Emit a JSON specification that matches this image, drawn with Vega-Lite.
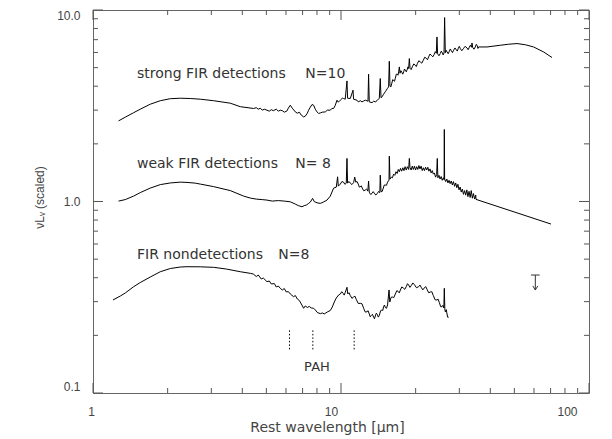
{
"$schema": "https://vega.github.io/schema/vega-lite/v6.json",
"width": 496, "height": 383,
"autosize": {"type": "none"},
"padding": {"left": 93, "top": 10, "right": 23, "bottom": 46},
"background": "white",
"config": {"view": {"stroke": "#666", "strokeWidth": 1}, "font": "DejaVu Sans"},
"datasets": {
"strong": [
{"wl":1.268,"f":2.636},{"wl":1.349,"f":2.756},{"wl":1.458,"f":2.909},{"wl":1.551,"f":3.034},{"wl":1.702,"f":3.222},{"wl":1.868,"f":3.360},{"wl":2.050,"f":3.442},{"wl":2.249,"f":3.462},{"wl":2.468,"f":3.450},{"wl":2.708,"f":3.421},{"wl":3.064,"f":3.360},{"wl":3.578,"f":3.261},{"wl":3.926,"f":3.127},{"wl":4.443,"f":3.060},
{"wl":4.555,"f":3.089},{"wl":4.640,"f":3.034},{"wl":4.727,"f":3.071},{"wl":4.815,"f":2.998},{"wl":4.905,"f":3.034},{"wl":5.030,"f":2.998},{"wl":5.139,"f":2.963},{"wl":5.236,"f":3.016},{"wl":5.333,"f":2.980},{"wl":5.484,"f":3.034},{"wl":5.587,"f":2.963},{"wl":5.691,"f":2.998},{"wl":5.798,"f":2.980},{"wl":5.907,"f":2.927},{"wl":6.058,"f":2.973},{"wl":6.131,"f":3.071},{"wl":6.246,"f":3.183},{"wl":6.361,"f":3.071},{"wl":6.543,"f":2.937},{"wl":6.666,"f":2.891},{"wl":6.792,"f":2.927},{"wl":6.918,"f":2.823},{"wl":7.068,"f":2.765},{"wl":7.178,"f":2.789},{"wl":7.314,"f":2.891},{"wl":7.402,"f":2.998},{"wl":7.520,"f":3.108},{"wl":7.641,"f":3.210},{"wl":7.755,"f":3.183},{"wl":7.877,"f":3.034},{"wl":8.004,"f":2.937},{"wl":8.124,"f":2.881},{"wl":8.253,"f":2.902},{"wl":8.406,"f":2.927},{"wl":8.645,"f":2.937},{"wl":8.807,"f":2.998},{"wl":9.055,"f":2.998},{"wl":9.182,"f":3.060},{"wl":9.337,"f":3.060},{"wl":9.485,"f":3.183},{"wl":9.636,"f":3.381},{"wl":9.752,"f":3.300},{"wl":9.936,"f":3.381},{"wl":10.12,"f":3.462},{"wl":10.24,"f":3.450},{"wl":10.40,"f":3.421},{"wl":10.57,"f":4.262},{"wl":10.63,"f":3.462},{"wl":10.90,"f":3.450},{"wl":11.18,"f":3.812},{"wl":11.24,"f":3.421},{"wl":11.60,"f":3.381},{"wl":11.74,"f":3.312},{"wl":11.96,"f":3.360},{"wl":12.15,"f":3.312},{"wl":12.30,"f":3.340},{"wl":12.53,"f":3.381},{"wl":12.85,"f":3.340},{"wl":12.92,"f":4.620},{"wl":13.00,"f":3.312},{"wl":13.34,"f":3.281},{"wl":13.54,"f":3.340},{"wl":13.75,"f":3.312},{"wl":13.97,"f":3.360},{"wl":14.27,"f":3.462},{"wl":14.40,"f":4.387},{"wl":14.50,"f":3.483},{"wl":14.63,"f":3.517},{"wl":14.85,"f":3.633},{"wl":15.09,"f":3.744},{"wl":15.41,"f":3.904},{"wl":15.56,"f":3.965},{"wl":15.66,"f":5.400},{"wl":15.76,"f":4.000},
{"wl":15.89,"f":3.970},{"wl":16.03,"f":4.146},{"wl":16.16,"f":4.327},{"wl":16.30,"f":4.298},{"wl":16.43,"f":4.241},{"wl":16.56,"f":4.402},{"wl":16.71,"f":4.622},{"wl":16.87,"f":4.620},{"wl":16.97,"f":4.567},{"wl":17.08,"f":4.749},{"wl":17.19,"f":5.043},{"wl":17.30,"f":4.675},{"wl":17.44,"f":4.821},{"wl":17.59,"f":4.732},{"wl":17.74,"f":4.622},{"wl":17.89,"f":4.749},{"wl":18.03,"f":4.918},{"wl":18.17,"f":4.847},{"wl":18.34,"f":4.754},{"wl":18.51,"f":4.906},{"wl":18.62,"f":5.049},{"wl":18.74,"f":4.947},{"wl":18.86,"f":5.578},{"wl":18.98,"f":4.966},{"wl":19.18,"f":4.885},{"wl":19.39,"f":5.054},{"wl":19.66,"f":5.228},{"wl":19.94,"f":5.146},{"wl":20.12,"f":5.063},{"wl":20.31,"f":5.241},{"wl":20.59,"f":5.430},{"wl":20.88,"f":5.355},{"wl":21.17,"f":5.275},{"wl":21.47,"f":5.465},{"wl":21.77,"f":5.669},{"wl":22.08,"f":5.598},{"wl":22.32,"f":5.501},{"wl":22.56,"f":5.687},{"wl":22.84,"f":5.889},{"wl":23.13,"f":5.804},{"wl":23.45,"f":5.693},{"wl":23.78,"f":5.874},{"wl":24.00,"f":6.057},{"wl":24.23,"f":5.945},{"wl":24.38,"f":7.232},{"wl":24.52,"f":5.909},{"wl":24.83,"f":5.768},{"wl":25.14,"f":5.924},{"wl":25.38,"f":6.101},{"wl":25.62,"f":5.981},{"wl":25.82,"f":5.825},{"wl":26.03,"f":5.967},{"wl":26.17,"f":9.129},{"wl":26.34,"f":5.981},{"wl":26.55,"f":6.160},{"wl":26.76,"f":6.039},{"wl":27.05,"f":5.912},{"wl":27.34,"f":6.089},{"wl":27.59,"f":6.260},{"wl":27.85,"f":6.126},{"wl":28.15,"f":5.990},{"wl":28.45,"f":6.163},{"wl":28.81,"f":6.336},{"wl":29.17,"f":6.200},{"wl":29.44,"f":6.100},{"wl":29.72,"f":6.313},{"wl":29.99,"f":6.459},{"wl":30.27,"f":6.290},{"wl":30.69,"f":6.125},{"wl":31.12,"f":6.275},{"wl":31.67,"f":6.463},{"wl":32.23,"f":6.336},{"wl":32.57,"f":6.203},{"wl":32.91,"f":6.389},{"wl":33.25,"f":6.549},{"wl":33.60,"f":6.389},{"wl":33.75,"f":6.728},{"wl":33.94,"f":6.389},{"wl":34.36,"f":6.240},{"wl":34.79,"f":6.412},{"wl":35.11,"f":6.620},{"wl":35.44,"f":6.506},{"wl":35.65,"f":6.298},{"wl":35.87,"f":6.412},
{"wl":38.80,"f":6.412},{"wl":43.88,"f":6.545},{"wl":47.27,"f":6.624},{"wl":51.26,"f":6.679},{"wl":55.35,"f":6.585},{"wl":59.80,"f":6.412},{"wl":65.61,"f":6.039},{"wl":70.94,"f":5.646}
],
"weak": [
{"wl":1.268,"f":1.005},{"wl":1.349,"f":1.023},{"wl":1.458,"f":1.067},{"wl":1.551,"f":1.113},{"wl":1.702,"f":1.175},{"wl":1.868,"f":1.225},{"wl":2.050,"f":1.250},{"wl":2.249,"f":1.262},{"wl":2.393,"f":1.258},{"wl":2.585,"f":1.247},{"wl":2.708,"f":1.233},{"wl":3.064,"f":1.196},{"wl":3.578,"f":1.140},{"wl":4.049,"f":1.067},
{"wl":4.309,"f":1.042},{"wl":4.555,"f":1.029},{"wl":4.815,"f":1.023},{"wl":5.030,"f":1.017},{"wl":5.284,"f":1.005},{"wl":5.587,"f":1.011},{"wl":5.907,"f":1.005},{"wl":6.246,"f":0.9964},{"wl":6.543,"f":0.9692},{"wl":6.727,"f":0.9519},{"wl":6.962,"f":0.9384},{"wl":7.112,"f":0.9519},{"wl":7.246,"f":0.9576},{"wl":7.402,"f":0.9774},{"wl":7.520,"f":0.9928},{"wl":7.682,"f":1.038},{"wl":7.803,"f":0.9988},{"wl":8.004,"f":0.9845},{"wl":8.253,"f":0.9774},{"wl":8.484,"f":0.9928},{"wl":8.781,"f":1.017},{"wl":9.055,"f":1.067},{"wl":9.337,"f":1.175},{"wl":9.573,"f":1.189},{"wl":9.690,"f":1.346},{"wl":9.752,"f":1.203},{"wl":9.936,"f":1.233},{"wl":10.09,"f":1.272},{"wl":10.24,"f":1.262},{"wl":10.37,"f":1.229},{"wl":10.50,"f":1.247},{"wl":10.57,"f":1.678},{"wl":10.63,"f":1.247},{"wl":10.76,"f":1.272},{"wl":10.90,"f":1.247},{"wl":11.07,"f":1.226},{"wl":11.24,"f":1.255},{"wl":11.36,"f":1.341},{"wl":11.47,"f":1.262},{"wl":11.60,"f":1.272},{"wl":11.74,"f":1.233},{"wl":11.85,"f":1.189},{"wl":11.96,"f":1.193},{"wl":12.07,"f":1.208},{"wl":12.18,"f":1.175},{"wl":12.35,"f":1.138},{"wl":12.53,"f":1.147},{"wl":12.68,"f":1.163},{"wl":12.83,"f":1.133},{"wl":12.92,"f":1.278},{"wl":13.00,"f":1.119},{"wl":13.17,"f":1.088},{"wl":13.34,"f":1.102},{"wl":13.48,"f":1.126},{"wl":13.62,"f":1.106},{"wl":13.81,"f":1.081},{"wl":14.01,"f":1.100},{"wl":14.17,"f":1.128},{"wl":14.34,"f":1.113},{"wl":14.40,"f":1.373},{"wl":14.50,"f":1.126},{"wl":14.65,"f":1.127},{"wl":14.81,"f":1.175},{"wl":14.95,"f":1.220},{"wl":15.09,"f":1.218},{"wl":15.25,"f":1.215},{"wl":15.41,"f":1.262},{"wl":15.62,"f":1.293},{"wl":15.66,"f":1.725},{"wl":15.76,"f":1.309},
{"wl":15.95,"f":1.34},{"wl":16.12,"f":1.33},{"wl":16.30,"f":1.39},{"wl":16.48,"f":1.37},{"wl":16.66,"f":1.43},{"wl":16.85,"f":1.40},{"wl":17.02,"f":1.47},{"wl":17.19,"f":1.43},{"wl":17.37,"f":1.49},{"wl":17.56,"f":1.44},{"wl":17.75,"f":1.50},{"wl":17.94,"f":1.45},{"wl":18.13,"f":1.52},{"wl":18.33,"f":1.46},{"wl":18.52,"f":1.52},{"wl":18.74,"f":1.47},{"wl":18.86,"f":1.678},{"wl":18.98,"f":1.50},{"wl":19.18,"f":1.46},{"wl":19.38,"f":1.53},{"wl":19.58,"f":1.47},{"wl":19.78,"f":1.53},{"wl":19.98,"f":1.46},{"wl":20.19,"f":1.52},{"wl":20.40,"f":1.47},{"wl":20.61,"f":1.54},{"wl":20.82,"f":1.48},{"wl":21.04,"f":1.53},{"wl":21.26,"f":1.45},{"wl":21.48,"f":1.50},{"wl":21.70,"f":1.45},{"wl":21.93,"f":1.51},{"wl":22.16,"f":1.46},{"wl":22.39,"f":1.51},{"wl":22.62,"f":1.44},{"wl":22.85,"f":1.48},{"wl":23.09,"f":1.41},{"wl":23.33,"f":1.45},{"wl":23.57,"f":1.39},{"wl":23.81,"f":1.41},{"wl":24.06,"f":1.34},{"wl":24.30,"f":1.38},{"wl":24.45,"f":1.678},{"wl":24.58,"f":1.33},{"wl":24.83,"f":1.37},{"wl":25.09,"f":1.31},{"wl":25.35,"f":1.35},{"wl":25.61,"f":1.29},{"wl":25.88,"f":1.33},{"wl":26.04,"f":1.30},{"wl":26.10,"f":2.377},{"wl":26.17,"f":1.31},{"wl":26.44,"f":1.27},{"wl":26.71,"f":1.31},{"wl":26.99,"f":1.25},{"wl":27.27,"f":1.29},{"wl":27.55,"f":1.24},{"wl":27.83,"f":1.28},{"wl":28.12,"f":1.22},{"wl":28.41,"f":1.27},{"wl":28.71,"f":1.20},{"wl":29.01,"f":1.25},{"wl":29.31,"f":1.18},{"wl":29.61,"f":1.23},{"wl":29.92,"f":1.15},{"wl":30.23,"f":1.19},{"wl":30.54,"f":1.12},{"wl":30.86,"f":1.16},{"wl":31.18,"f":1.09},{"wl":31.50,"f":1.14},{"wl":31.83,"f":1.08},{"wl":32.16,"f":1.15},{"wl":32.49,"f":1.06},{"wl":32.83,"f":1.13},{"wl":33.17,"f":1.05},{"wl":33.51,"f":1.14},{"wl":33.86,"f":1.04},{"wl":34.21,"f":1.10},{"wl":34.57,"f":1.03},{"wl":34.93,"f":1.08},{"wl":35.02,"f":1.026},
{"wl":70.29,"f":0.7623}
],
"non": [
{"wl":1.204,"f":0.3060},{"wl":1.289,"f":0.3210},{"wl":1.349,"f":0.3328},{"wl":1.458,"f":0.3589},{"wl":1.551,"f":0.3775},{"wl":1.702,"f":0.4033},{"wl":1.868,"f":0.4298},{"wl":2.050,"f":0.4467},{"wl":2.249,"f":0.4548},{"wl":2.393,"f":0.4565},{"wl":2.708,"f":0.4559},{"wl":3.064,"f":0.4532},{"wl":3.447,"f":0.4440},{"wl":3.926,"f":0.4298},{"wl":4.309,"f":0.4215},
{"wl":4.430,"f":0.4180},{"wl":4.555,"f":0.4057},{"wl":4.640,"f":0.4131},{"wl":4.770,"f":0.3937},{"wl":4.860,"f":0.3985},{"wl":5.030,"f":0.3812},{"wl":5.139,"f":0.3845},{"wl":5.236,"f":0.3708},{"wl":5.383,"f":0.3730},{"wl":5.484,"f":0.3577},{"wl":5.587,"f":0.3620},{"wl":5.691,"f":0.3521},{"wl":5.798,"f":0.3450},{"wl":5.907,"f":0.3512},{"wl":6.018,"f":0.3368},{"wl":6.131,"f":0.3388},{"wl":6.246,"f":0.3289},{"wl":6.440,"f":0.3183},{"wl":6.543,"f":0.3229},{"wl":6.666,"f":0.3097},{"wl":6.792,"f":0.3041},{"wl":6.918,"f":0.2916},{"wl":7.068,"f":0.2770},{"wl":7.178,"f":0.2848},{"wl":7.314,"f":0.2797},{"wl":7.450,"f":0.2830},{"wl":7.588,"f":0.2780},{"wl":7.755,"f":0.2770},{"wl":7.877,"f":0.2714},{"wl":8.024,"f":0.2633},{"wl":8.253,"f":0.2596},{"wl":8.406,"f":0.2618},{"wl":8.565,"f":0.2587},{"wl":8.807,"f":0.2649},{"wl":9.055,"f":0.2697},{"wl":9.224,"f":0.2813},{"wl":9.397,"f":0.2987},{"wl":9.573,"f":0.3134},{"wl":9.779,"f":0.3249},{"wl":9.936,"f":0.3289},{"wl":10.07,"f":0.3381},{"wl":10.21,"f":0.3308},{"wl":10.30,"f":0.3245},{"wl":10.40,"f":0.3348},{"wl":10.57,"f":0.3564},{"wl":10.65,"f":0.3289},{"wl":10.77,"f":0.3340},{"wl":10.90,"f":0.3229},{"wl":11.07,"f":0.3120},{"wl":11.24,"f":0.3172},{"wl":11.38,"f":0.3203},{"wl":11.53,"f":0.3078},{"wl":11.74,"f":0.2933},{"wl":11.96,"f":0.2940},{"wl":12.15,"f":0.2925},{"wl":12.34,"f":0.2770},{"wl":12.53,"f":0.2645},{"wl":12.73,"f":0.2658},{"wl":12.86,"f":0.2688},{"wl":13.00,"f":0.2587},{"wl":13.12,"f":0.2499},{"wl":13.25,"f":0.2540},{"wl":13.39,"f":0.2576},{"wl":13.54,"f":0.2486},{"wl":13.64,"f":0.2442},{"wl":13.75,"f":0.2525},{"wl":13.88,"f":0.2611},{"wl":14.01,"f":0.2570},{"wl":14.14,"f":0.2491},{"wl":14.27,"f":0.2540},{"wl":14.45,"f":0.2691},{"wl":14.63,"f":0.2714},{"wl":14.74,"f":0.2699},{"wl":14.85,"f":0.2823},{"wl":14.97,"f":0.2880},{"wl":15.09,"f":0.2797},{"wl":15.25,"f":0.2768},{"wl":15.41,"f":0.2882},{"wl":15.62,"f":0.3450},{"wl":15.73,"f":0.2987},{"wl":15.91,"f":0.3157},{"wl":16.10,"f":0.3172},{"wl":16.33,"f":0.3149},{"wl":16.56,"f":0.3289},{"wl":16.79,"f":0.3422},{"wl":17.02,"f":0.3388},{"wl":17.18,"f":0.3333},{"wl":17.35,"f":0.3450},{"wl":17.59,"f":0.3579},{"wl":17.83,"f":0.3534},{"wl":18.08,"f":0.3477},{"wl":18.34,"f":0.3598},{"wl":18.54,"f":0.3722},{"wl":18.74,"f":0.3664},{"wl":18.97,"f":0.3562},{"wl":19.21,"f":0.3642},{"wl":19.48,"f":0.3756},{"wl":19.75,"f":0.3686},{"wl":20.15,"f":0.3546},{"wl":20.56,"f":0.3589},{"wl":20.82,"f":0.3661},{"wl":21.08,"f":0.3555},{"wl":21.37,"f":0.3456},{"wl":21.67,"f":0.3534},{"wl":21.95,"f":0.3594},{"wl":22.23,"f":0.3479},{"wl":22.57,"f":0.3337},{"wl":22.92,"f":0.3368},{"wl":23.24,"f":0.3380},{"wl":23.56,"f":0.3229},{"wl":23.97,"f":0.3065},{"wl":24.38,"f":0.3060},{"wl":24.64,"f":0.3090},{"wl":24.91,"f":0.2970},{"wl":25.23,"f":0.2823},{"wl":25.55,"f":0.2823},{"wl":25.76,"f":0.2871},{"wl":25.98,"f":0.2780},{"wl":26.10,"f":0.3521},{"wl":26.22,"f":0.2747},{"wl":26.34,"f":0.2654},{"wl":26.47,"f":0.2697},{"wl":26.59,"f":0.2724},{"wl":26.71,"f":0.2618},{"wl":26.93,"f":0.2487},{"wl":27.16,"f":0.2486}
],
"pah": [{"wl":6.2,"lo":0.169,"hi":0.214},{"wl":7.7,"lo":0.169,"hi":0.214},{"wl":11.3,"lo":0.169,"hi":0.214}],
"labels": [
{"text":"strong FIR detections","wl":1.504,"f":4.658},{"text":"N=10","wl":7.178,"f":4.658},
{"text":"weak FIR detections","wl":1.504,"f":1.561},{"text":"N= 8","wl":6.543,"f":1.561},
{"text":"FIR nondetections","wl":1.504,"f":0.5253},{"text":"N=8","wl":5.587,"f":0.5253}
],
"pahlabel": [{"text":"PAH","wl":8.0,"f":0.1373}],
"limit": [{"wl":60.75,"f":0.3775}],
"xmaj": [{"v":1},{"v":10},{"v":100}],
"xmin": [{"v":2},{"v":3},{"v":4},{"v":5},{"v":6},{"v":7},{"v":8},{"v":9},{"v":20},{"v":30},{"v":40},{"v":50},{"v":60},{"v":70},{"v":80},{"v":90}],
"ymaj": [{"v":0.1},{"v":1},{"v":10}],
"ymin": [{"v":0.2},{"v":0.3},{"v":0.4},{"v":0.5},{"v":0.6},{"v":0.7},{"v":0.8},{"v":0.9},{"v":2},{"v":3},{"v":4},{"v":5},{"v":6},{"v":7},{"v":8},{"v":9}]
},
"layer": [
{"data": {"name": "xmaj"}, "mark": {"type": "rule", "color": "#555", "strokeWidth": 1, "y2Offset": -10},
 "encoding": {"x": {"field": "v", "type": "quantitative", "scale": {"type": "log", "domain": [1, 100]}, "axis": null},
  "y": {"datum": 0.1, "type": "quantitative", "scale": {"type": "log", "domain": [0.1, 10]}, "axis": null}, "y2": {"datum": 0.1}}},
{"data": {"name": "xmin"}, "mark": {"type": "rule", "color": "#555", "strokeWidth": 1, "y2Offset": -5},
 "encoding": {"x": {"field": "v", "type": "quantitative", "scale": {"type": "log", "domain": [1, 100]}, "axis": null},
  "y": {"datum": 0.1, "type": "quantitative", "scale": {"type": "log", "domain": [0.1, 10]}, "axis": null}, "y2": {"datum": 0.1}}},
{"data": {"name": "xmaj"}, "mark": {"type": "rule", "color": "#555", "strokeWidth": 1, "y2Offset": 10},
 "encoding": {"x": {"field": "v", "type": "quantitative", "scale": {"type": "log", "domain": [1, 100]}, "axis": null},
  "y": {"datum": 10, "type": "quantitative", "scale": {"type": "log", "domain": [0.1, 10]}, "axis": null}, "y2": {"datum": 10}}},
{"data": {"name": "xmin"}, "mark": {"type": "rule", "color": "#555", "strokeWidth": 1, "y2Offset": 5},
 "encoding": {"x": {"field": "v", "type": "quantitative", "scale": {"type": "log", "domain": [1, 100]}, "axis": null},
  "y": {"datum": 10, "type": "quantitative", "scale": {"type": "log", "domain": [0.1, 10]}, "axis": null}, "y2": {"datum": 10}}},
{"data": {"name": "ymaj"}, "mark": {"type": "rule", "color": "#555", "strokeWidth": 1, "x2Offset": 10},
 "encoding": {"y": {"field": "v", "type": "quantitative", "scale": {"type": "log", "domain": [0.1, 10]}, "axis": null},
  "x": {"datum": 1, "type": "quantitative", "scale": {"type": "log", "domain": [1, 100]}, "axis": null}, "x2": {"datum": 1}}},
{"data": {"name": "ymin"}, "mark": {"type": "rule", "color": "#555", "strokeWidth": 1, "x2Offset": 5},
 "encoding": {"y": {"field": "v", "type": "quantitative", "scale": {"type": "log", "domain": [0.1, 10]}, "axis": null},
  "x": {"datum": 1, "type": "quantitative", "scale": {"type": "log", "domain": [1, 100]}, "axis": null}, "x2": {"datum": 1}}},
{"data": {"name": "ymaj"}, "mark": {"type": "rule", "color": "#555", "strokeWidth": 1, "x2Offset": -10},
 "encoding": {"y": {"field": "v", "type": "quantitative", "scale": {"type": "log", "domain": [0.1, 10]}, "axis": null},
  "x": {"datum": 100, "type": "quantitative", "scale": {"type": "log", "domain": [1, 100]}, "axis": null}, "x2": {"datum": 100}}},
{"data": {"name": "ymin"}, "mark": {"type": "rule", "color": "#555", "strokeWidth": 1, "x2Offset": -5},
 "encoding": {"y": {"field": "v", "type": "quantitative", "scale": {"type": "log", "domain": [0.1, 10]}, "axis": null},
  "x": {"datum": 100, "type": "quantitative", "scale": {"type": "log", "domain": [1, 100]}, "axis": null}, "x2": {"datum": 100}}},
{"data": {"name": "strong"}, "mark": {"type": "line", "color": "black", "strokeWidth": 1},
 "encoding": {
  "x": {"field": "wl", "type": "quantitative", "scale": {"type": "log", "domain": [1, 100]}, "axis": null},
  "y": {"field": "f", "type": "quantitative", "scale": {"type": "log", "domain": [0.1, 10]}, "axis": null}
 }},
{"data": {"name": "weak"}, "mark": {"type": "line", "color": "black", "strokeWidth": 1},
 "encoding": {
  "x": {"field": "wl", "type": "quantitative", "scale": {"type": "log", "domain": [1, 100]}, "axis": null},
  "y": {"field": "f", "type": "quantitative", "scale": {"type": "log", "domain": [0.1, 10]}, "axis": null}
 }},
{"data": {"name": "non"}, "mark": {"type": "line", "color": "black", "strokeWidth": 1},
 "encoding": {
  "x": {"field": "wl", "type": "quantitative", "scale": {"type": "log", "domain": [1, 100]}, "axis": null},
  "y": {"field": "f", "type": "quantitative", "scale": {"type": "log", "domain": [0.1, 10]}, "axis": null}
 }},
{"data": {"name": "pah"}, "mark": {"type": "rule", "color": "black", "strokeWidth": 1, "strokeDash": [1.5, 2]},
 "encoding": {
  "x": {"field": "wl", "type": "quantitative", "scale": {"type": "log", "domain": [1, 100]}, "axis": null},
  "y": {"field": "lo", "type": "quantitative", "scale": {"type": "log", "domain": [0.1, 10]}, "axis": null},
  "y2": {"field": "hi"}
 }},
{"data": {"name": "labels"}, "mark": {"type": "text", "align": "left", "baseline": "middle", "font": "DejaVu Sans", "fontSize": 14, "color": "#333"},
 "encoding": {
  "x": {"field": "wl", "type": "quantitative", "scale": {"type": "log", "domain": [1, 100]},
   "axis": {"orient": "bottom", "values": [1], "format": "d", "ticks": false, "domain": false, "grid": false, "labelFlush": false, "labelBound": false, "labelPadding": 13, "labelOffset": -2, "labelFont": "Liberation Sans", "labelFontSize": 12, "labelColor": "#444", "title": "Rest wavelength [μm]", "titleX": 234, "titleFont": "DejaVu Sans", "titleFontSize": 14, "titleFontWeight": "normal", "titleColor": "#444", "titlePadding": 3}},
  "y": {"field": "f", "type": "quantitative", "scale": {"type": "log", "domain": [0.1, 10]},
   "axis": {"orient": "left", "values": [0.1, 1, 10], "format": ".1f", "ticks": false, "domain": false, "grid": false, "labelPadding": 13, "labelFlush": true, "labelFont": "Liberation Sans", "labelFontSize": 12, "labelColor": "#444", "title": "νLᵥ (scaled)", "titleY": 187, "titleFont": "Liberation Sans", "titleFontSize": 12, "titleFontWeight": "normal", "titleColor": "#444", "titlePadding": 10}},
  "text": {"field": "text"}
 }},
{"data": {"name": "pahlabel"}, "mark": {"type": "text", "align": "center", "baseline": "middle", "font": "DejaVu Sans", "fontSize": 13, "color": "#333"},
 "encoding": {
  "x": {"field": "wl", "type": "quantitative", "scale": {"type": "log", "domain": [1, 100]},
   "axis": {"orient": "bottom", "values": [10], "format": "d", "ticks": false, "domain": false, "grid": false, "labelFlush": false, "labelBound": false, "labelPadding": 13, "labelOffset": -10, "labelFont": "Liberation Sans", "labelFontSize": 12, "labelColor": "#444", "title": null}},
  "y": {"field": "f", "type": "quantitative", "scale": {"type": "log", "domain": [0.1, 10]}, "axis": null},
  "text": {"field": "text"}
 }},
{"data": {"name": "limit"}, "mark": {"type": "point", "shape": "M-0.58,-1L0.58,-1M0,-1L0,1M-0.33,0.45L0,1L0.33,0.45", "filled": false, "size": 225, "color": "#333", "strokeWidth": 1, "opacity": 1},
 "encoding": {
  "x": {"field": "wl", "type": "quantitative", "scale": {"type": "log", "domain": [1, 100]},
   "axis": {"orient": "bottom", "values": [100], "format": "d", "ticks": false, "domain": false, "grid": false, "labelFlush": false, "labelBound": false, "labelPadding": 13, "labelOffset": -22, "labelFont": "Liberation Sans", "labelFontSize": 12, "labelColor": "#444", "title": null}},
  "y": {"field": "f", "type": "quantitative", "scale": {"type": "log", "domain": [0.1, 10]}, "axis": null}
 }}
],
"resolve": {"axis": {"x": "independent", "y": "independent"}}
}
